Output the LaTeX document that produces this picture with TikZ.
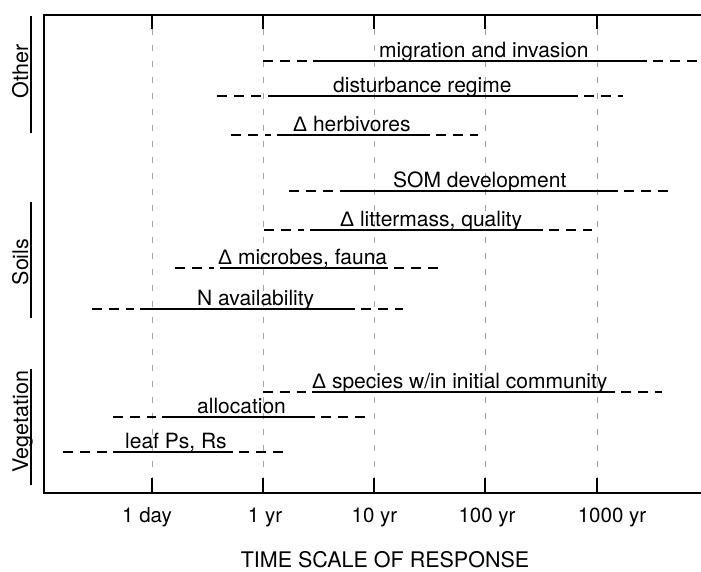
\documentclass[tikz,border=0pt]{standalone}
\usepackage{fontspec}
\setmainfont{TeX Gyre Heros}
\newfontfamily\dfont{Liberation Sans}
\begin{document}
\begin{tikzpicture}[x=1pt,y=-1pt,
  frameline/.style={line width=2.8pt},
  tickline/.style={line width=2.4pt},
  gridline/.style={gray!70,line width=0.7pt,dash pattern=on 6pt off 10pt},
  solidpart/.style={line width=2.7pt},
  dashpart/.style={line width=2.7pt,dash pattern=on 10pt off 7pt},
  barlabel/.style={inner sep=0pt,anchor=base west,font=\fontsize{21}{25}\selectfont},
  ticklabel/.style={inner sep=0pt,anchor=base,font=\fontsize{20.5}{25}\selectfont},
  grouplabel/.style={inner sep=0pt,anchor=base,rotate=90,font=\fontsize{21.5}{25}\selectfont},
  groupline/.style={line width=2.6pt}]
\useasboundingbox (0,0) rectangle (701,571);
% grid lines
\foreach \gx/\gn in {152/a,263/b,374/c,485/d,597/e}{
  \coordinate (gt\gn) at (\gx,29);
  \coordinate (gb\gn) at (\gx,478);
  \draw[gridline] (gt\gn) -- (gb\gn);
  \coordinate (tt\gn) at (\gx,15);
  \coordinate (bt\gn) at (\gx,493);
  \draw[tickline] (tt\gn) -- (gt\gn);
  \draw[tickline] (bt\gn) -- (gb\gn);
}
% frame
\coordinate (tr) at (701,15);
\coordinate (tl) at (44,15);
\coordinate (bl) at (44,493);
\coordinate (br) at (701,493);
\draw[frameline,line cap=rect] (tr) -- (tl) -- (bl) -- (br);
% bars
\newcommand{\rangebar}[8]{%
  \coordinate (#1a) at (#3,#2);
  \coordinate (#1b) at (#4-6,#2);
  \coordinate (#1c) at (#4,#2);
  \coordinate (#1d) at (#5,#2);
  \coordinate (#1e) at (#5+6,#2);
  \coordinate (#1f) at (#6,#2);
  \draw[dashpart] (#1a) -- (#1b);
  \draw[solidpart] (#1c) -- (#1d);
  \draw[dashpart] (#1e) -- (#1f);
  \node[barlabel] (#1t) at (#7,#2-4) {#8};
}
\rangebar{mig}{61}{263}{313}{647}{701}{379}{migration and invasion}
\rangebar{dis}{96}{217}{268}{578}{623}{333}{disturbance regime}
\rangebar{her}{135}{231}{277}{430}{478}{293}{{\dfont Δ} herbivores}
\rangebar{som}{191}{289}{340}{618}{668}{393}{SOM development}
\rangebar{lit}{230}{264}{310}{543}{592}{340}{{\dfont Δ} littermass, quality}
\rangebar{mic}{268}{175}{220}{388}{438}{218}{{\dfont Δ} microbes, fauna}
\rangebar{nav}{309}{92}{140}{355}{403}{197}{N availability}
\rangebar{spe}{392}{263}{312}{615}{662}{312}{{\dfont Δ} species w/in initial community}
\rangebar{all}{417}{113}{162}{315}{367}{197}{allocation}
\rangebar{lea}{452}{63}{113}{233}{287}{125}{leaf Ps, Rs}
% group labels
\node[grouplabel] (gother) at (28,71.5) {Other};
\coordinate (go1) at (31,16); \coordinate (go2) at (31,133);
\draw[groupline] (go1) -- (go2);
\node[grouplabel] (gsoils) at (28,262) {Soils};
\coordinate (gs1) at (31,202); \coordinate (gs2) at (31,318);
\draw[groupline] (gs1) -- (gs2);
\node[grouplabel] (gveg) at (28,421.5) {Vegetation};
\coordinate (gv1) at (31,369); \coordinate (gv2) at (31,485);
\draw[groupline] (gv1) -- (gv2);
% axis labels
\node[ticklabel] (l1) at (147,522) {1 day};
\node[ticklabel] (l2) at (265,522) {1 yr};
\node[ticklabel] (l3) at (374.5,522) {10 yr};
\node[ticklabel] (l4) at (487,522) {100 yr};
\node[ticklabel] (l5) at (612,522) {1000 yr};
\node[inner sep=0pt,anchor=base,font=\fontsize{21.5}{25}\selectfont] (title) at (385,567) {TIME SCALE OF RESPONSE};
\end{tikzpicture}
\end{document}
